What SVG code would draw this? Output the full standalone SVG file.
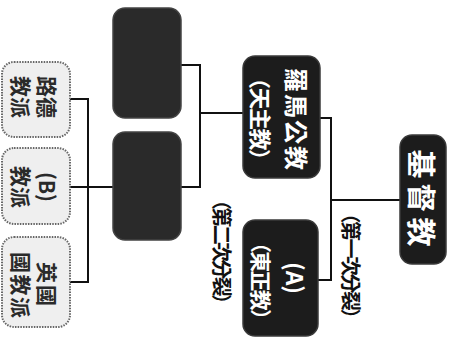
<svg xmlns="http://www.w3.org/2000/svg" width="458" height="343" viewBox="0 0 458 343">
<style>
.dark{fill:#1c1c1c;stroke:#3a3a3a;stroke-width:1.5}
.blank{fill:#2a2a2a;stroke:#444;stroke-width:1.5}
.light{fill:#efefef;stroke:#666;stroke-width:2;stroke-dasharray:1.5 1.2}
.wt{fill:#fff;font-family:"Noto Sans CJK TC","Noto Sans CJK SC",sans-serif;font-weight:bold;text-anchor:middle;dominant-baseline:central}
.bt{fill:#2a2a2a;font-family:"Noto Sans CJK TC","Noto Sans CJK SC",sans-serif;font-weight:bold;text-anchor:middle;dominant-baseline:central}
.lbl{fill:#111;font-family:"Noto Sans CJK TC","Noto Sans CJK SC",sans-serif;font-weight:bold;text-anchor:middle;dominant-baseline:central}
.ln{fill:none;stroke:#111;stroke-width:2}
</style>
<g id="connectors">
<path class="ln" d="M70 99H88V282H70M70 187H113"/>
<path class="ln" d="M181 65H200V187H181M200 113H243"/>
<path class="ln" d="M320 118H331V280H318M331 200H400"/>
</g>
<g id="christianity">
<rect class="dark" x="400" y="135" width="46" height="129" rx="12"/>
<text class="wt" x="423" y="198" font-size="29" textLength="97" lengthAdjust="spacing" transform="rotate(90 423 198)">基督教</text>
</g>
<g id="catholic">
<rect class="dark" x="243" y="56" width="77" height="122" rx="12"/>
<text class="wt" x="297" y="119" font-size="24" textLength="102" lengthAdjust="spacing" transform="rotate(90 297 119)">羅馬公教</text>
<text class="wt" x="262" y="119" font-size="22" textLength="104" lengthAdjust="spacing" transform="rotate(90 262 119)">（天主教）</text>
</g>
<g id="orthodox">
<rect class="dark" x="243" y="220" width="75" height="116" rx="12"/>
<text class="wt" x="296" y="278" font-size="23" textLength="32" lengthAdjust="spacing" transform="rotate(90 296 278)">(A)</text>
<text class="wt" x="262" y="281" font-size="21" textLength="98" lengthAdjust="spacing" transform="rotate(90 262 281)">（東正教）</text>
</g>
<g id="split1">
<text class="lbl" x="351" y="266" font-size="20" textLength="125" lengthAdjust="spacing" transform="rotate(90 351 266)">（第一次分裂）</text>
</g>
<g id="split2">
<text class="lbl" x="222" y="252" font-size="20" textLength="124" lengthAdjust="spacing" transform="rotate(90 222 252)">（第二次分裂）</text>
</g>
<g id="blank1">
<rect class="blank" x="113" y="8" width="68" height="110" rx="12"/>
</g>
<g id="blank2">
<rect class="blank" x="113" y="132" width="68" height="108" rx="12"/>
</g>
<g id="lutheran">
<rect class="light" x="2" y="62" width="68" height="75" rx="12"/>
<text class="bt" x="48" y="97" font-size="21" textLength="42" lengthAdjust="spacing" transform="rotate(90 48 97)">路德</text>
<text class="bt" x="22" y="97" font-size="21" textLength="42" lengthAdjust="spacing" transform="rotate(90 22 97)">教派</text>
</g>
<g id="b-sect">
<rect class="light" x="2" y="148" width="68" height="76" rx="12"/>
<text class="bt" x="48" y="187" font-size="21" textLength="30" lengthAdjust="spacing" transform="rotate(90 48 187)">(B)</text>
<text class="bt" x="22" y="187" font-size="21" textLength="42" lengthAdjust="spacing" transform="rotate(90 22 187)">教派</text>
</g>
<g id="anglican">
<rect class="light" x="2" y="237" width="68" height="90" rx="12"/>
<text class="bt" x="48" y="284" font-size="21" textLength="44" lengthAdjust="spacing" transform="rotate(90 48 284)">英國</text>
<text class="bt" x="22" y="285" font-size="21" textLength="66" lengthAdjust="spacing" transform="rotate(90 22 285)">國教派</text>
</g>
</svg>
